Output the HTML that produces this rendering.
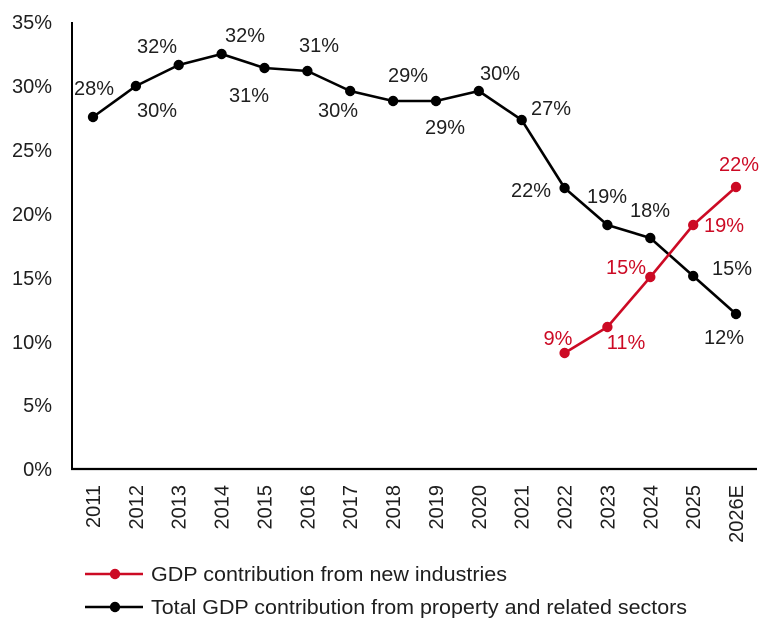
<!DOCTYPE html>
<html>
<head>
<meta charset="utf-8">
<style>
  html,body{margin:0;padding:0;background:#fff;}
  svg{display:block;}
  text{font-family:"Liberation Sans",sans-serif;font-size:20px;fill:#1e1e1e;}
  .r{fill:#cc0a24;}
</style>
</head>
<body>
<svg width="773" height="629" viewBox="0 0 773 629" xmlns="http://www.w3.org/2000/svg">
  <rect width="773" height="629" fill="#fff"/>
  <!-- axes -->
  <line x1="72" y1="22" x2="72" y2="469" stroke="#000" stroke-width="2"/>
  <line x1="71" y1="469" x2="757" y2="469" stroke="#000" stroke-width="2.2"/>

  <!-- y tick labels -->
  <g text-anchor="end">
    <text x="52" y="29">35%</text>
    <text x="52" y="93">30%</text>
    <text x="52" y="157">25%</text>
    <text x="52" y="221">20%</text>
    <text x="52" y="285">15%</text>
    <text x="52" y="349">10%</text>
    <text x="52" y="412">5%</text>
    <text x="52" y="476">0%</text>
  </g>

  <!-- x tick labels -->
  <g text-anchor="end">
    <text transform="translate(100,485) rotate(-90)">2011</text>
    <text transform="translate(142.9,485) rotate(-90)">2012</text>
    <text transform="translate(185.7,485) rotate(-90)">2013</text>
    <text transform="translate(228.6,485) rotate(-90)">2014</text>
    <text transform="translate(271.5,485) rotate(-90)">2015</text>
    <text transform="translate(314.4,485) rotate(-90)">2016</text>
    <text transform="translate(357.2,485) rotate(-90)">2017</text>
    <text transform="translate(400.1,485) rotate(-90)">2018</text>
    <text transform="translate(443,485) rotate(-90)">2019</text>
    <text transform="translate(485.8,485) rotate(-90)">2020</text>
    <text transform="translate(528.7,485) rotate(-90)">2021</text>
    <text transform="translate(571.6,485) rotate(-90)">2022</text>
    <text transform="translate(614.4,485) rotate(-90)">2023</text>
    <text transform="translate(657.3,485) rotate(-90)">2024</text>
    <text transform="translate(700.2,485) rotate(-90)">2025</text>
    <text transform="translate(743,485) rotate(-90)">2026E</text>
  </g>

  <!-- black series -->
  <polyline fill="none" stroke="#000" stroke-width="2.6" stroke-linejoin="round"
    points="93,117 135.9,86 178.7,65 221.6,54 264.5,68 307.4,71 350.2,91 393.1,101 436,101 478.8,91 521.7,120 564.6,188 607.4,225 650.3,238 693.2,276 736,314"/>
  <g fill="#000">
    <circle cx="93" cy="117" r="5.2"/>
    <circle cx="135.9" cy="86" r="5.2"/>
    <circle cx="178.7" cy="65" r="5.2"/>
    <circle cx="221.6" cy="54" r="5.2"/>
    <circle cx="264.5" cy="68" r="5.2"/>
    <circle cx="307.4" cy="71" r="5.2"/>
    <circle cx="350.2" cy="91" r="5.2"/>
    <circle cx="393.1" cy="101" r="5.2"/>
    <circle cx="436" cy="101" r="5.2"/>
    <circle cx="478.8" cy="91" r="5.2"/>
    <circle cx="521.7" cy="120" r="5.2"/>
    <circle cx="564.6" cy="188" r="5.2"/>
    <circle cx="607.4" cy="225" r="5.2"/>
    <circle cx="650.3" cy="238" r="5.2"/>
    <circle cx="693.2" cy="276" r="5.2"/>
    <circle cx="736" cy="314" r="5.2"/>
  </g>

  <!-- red series -->
  <polyline fill="none" stroke="#cc0a24" stroke-width="2.6" stroke-linejoin="round"
    points="564.6,353 607.4,327 650.3,277 693.2,225 736,187"/>
  <g fill="#cc0a24">
    <circle cx="564.6" cy="353" r="5.2"/>
    <circle cx="607.4" cy="327" r="5.2"/>
    <circle cx="650.3" cy="277" r="5.2"/>
    <circle cx="693.2" cy="225" r="5.2"/>
    <circle cx="736" cy="187" r="5.2"/>
  </g>

  <!-- black data labels -->
  <g text-anchor="middle">
    <text x="94" y="95">28%</text>
    <text x="157" y="117">30%</text>
    <text x="157" y="53">32%</text>
    <text x="245" y="42">32%</text>
    <text x="249" y="102">31%</text>
    <text x="319" y="52">31%</text>
    <text x="338" y="117">30%</text>
    <text x="408" y="82">29%</text>
    <text x="445" y="134">29%</text>
    <text x="500" y="80">30%</text>
    <text x="551" y="115">27%</text>
    <text x="531" y="197">22%</text>
    <text x="607" y="203">19%</text>
    <text x="650" y="217">18%</text>
    <text x="732" y="275">15%</text>
    <text x="724" y="344">12%</text>
  </g>

  <!-- red data labels -->
  <g text-anchor="middle">
    <text class="r" x="558" y="345">9%</text>
    <text class="r" x="626" y="349">11%</text>
    <text class="r" x="626" y="274">15%</text>
    <text class="r" x="724" y="232">19%</text>
    <text class="r" x="739" y="171">22%</text>
  </g>

  <!-- legend -->
  <line x1="85" y1="574" x2="143" y2="574" stroke="#cc0a24" stroke-width="2.6"/>
  <circle cx="115" cy="574" r="5.2" fill="#cc0a24"/>
  <text x="151" y="581" textLength="356" lengthAdjust="spacingAndGlyphs">GDP contribution from new industries</text>

  <line x1="85" y1="607" x2="143" y2="607" stroke="#000" stroke-width="2.6"/>
  <circle cx="115" cy="607" r="5.2" fill="#000"/>
  <text x="151" y="614" textLength="536" lengthAdjust="spacingAndGlyphs">Total GDP contribution from property and related sectors</text>
</svg>
</body>
</html>
